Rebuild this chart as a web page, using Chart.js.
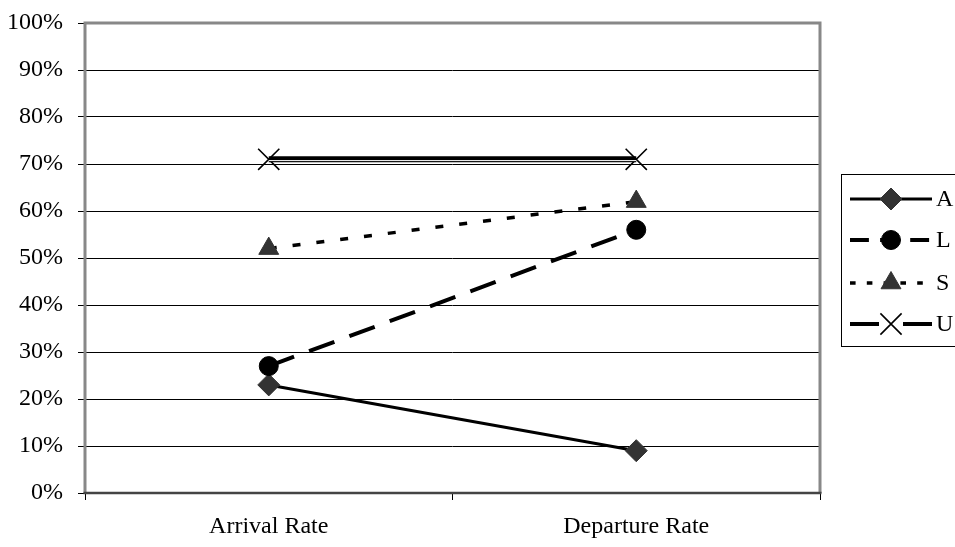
<!DOCTYPE html>
<html>
<head>
<meta charset="utf-8">
<script src="https://cdn.jsdelivr.net/npm/chart.js@4/dist/chart.umd.min.js"></script>
<style>
  html, body { margin: 0; padding: 0; background: #fff; }
  #wrap { width: 955px; height: 547px; }
</style>
</head>
<body>
<div id="wrap"><canvas id="c" width="955" height="547"></canvas></div>
<script>
// Rates by group, in percent
const categories = ['Arrival Rate', 'Departure Rate'];
const seriesA = [23, 9];
const seriesL = [27, 56];
const seriesS = [52, 62];
const seriesU = [71, 71];
const yTicks = [0, 10, 20, 30, 40, 50, 60, 70, 80, 90, 100];

const FONT = "'Liberation Serif', 'Times New Roman', serif";
const FONT_SIZE = 24;

const datasets = [
  {
    label: 'A', data: seriesA, order: 4,
    borderColor: '#000', borderWidth: 3,
    pointStyle: 'rectRot', pointRadius: 11,
    pointBackgroundColor: '#333', pointBorderColor: '#333', pointBorderWidth: 1
  },
  {
    label: 'L', data: seriesL, order: 3,
    borderColor: '#000', borderWidth: 4, borderDash: [27, 16],
    pointStyle: 'circle', pointRadius: 9.5,
    pointBackgroundColor: '#000', pointBorderColor: '#000', pointBorderWidth: 1
  },
  {
    label: 'S', data: seriesS, order: 2,
    borderColor: '#000', borderWidth: 3.5, borderDash: [8, 16],
    pointStyle: 'triangle', pointRadius: 11.5,
    pointBackgroundColor: '#333', pointBorderColor: '#333', pointBorderWidth: 1
  },
  {
    label: 'U', data: seriesU, order: 1,
    borderColor: '#000', borderWidth: 6,
    pointStyle: 'crossRot', pointRadius: 15,
    pointBackgroundColor: '#000', pointBorderColor: '#000', pointBorderWidth: 1.6
  },
  {
    // thin white core that turns the U line into a double rule
    label: '', data: seriesU, order: 0, skipLegend: true, core: true,
    borderColor: '#fff', borderWidth: 1, pointRadius: 0
  }
];

// Nudge the white core downward so the upper rule is the heavier one
const corePlugin = {
  id: 'core',
  beforeDatasetDraw(chart, args) {
    if (chart.data.datasets[args.index].core) {
      chart.ctx.save();
      chart.ctx.translate(0, 1.3);
    }
  },
  afterDatasetDraw(chart, args) {
    if (chart.data.datasets[args.index].core) chart.ctx.restore();
  }
};

// Gray frame around the plot area
const framePlugin = {
  id: 'frame',
  afterDraw(chart) {
    const { ctx, chartArea: a } = chart;
    ctx.save();
    ctx.strokeStyle = '#888';
    ctx.lineWidth = 3;
    ctx.beginPath();
    ctx.moveTo(a.left, a.bottom);
    ctx.lineTo(a.left, a.top);
    ctx.lineTo(a.right, a.top);
    ctx.lineTo(a.right, a.bottom);
    ctx.stroke();
    ctx.strokeStyle = '#444';
    ctx.lineWidth = 2.5;
    ctx.beginPath();
    ctx.moveTo(a.left - 1.5, a.bottom);
    ctx.lineTo(a.right + 1.5, a.bottom);
    ctx.stroke();
    ctx.restore();
  }
};

// Boxed legend on the right with line + marker samples
const legendPlugin = {
  id: 'boxLegend',
  afterDraw(chart) {
    const { ctx } = chart;
    const box = { x: 841, y: 174, w: 130, h: 172 };
    ctx.save();
    ctx.strokeStyle = '#000';
    ctx.lineWidth = 1;
    ctx.strokeRect(box.x + 0.5, box.y + 0.5, box.w, box.h);
    const rows = [199, 240, 283, 324];
    const shown = chart.data.datasets.filter(d => !d.skipLegend);
    shown.forEach((ds, i) => {
      const y = rows[i];
      const x0 = 850, x1 = 932, xm = 891;
      ctx.strokeStyle = ds.borderColor;
      ctx.lineWidth = Math.min(ds.borderWidth, 4);
      ctx.setLineDash(ds.borderDash ? ds.borderDash.map(v => v * 0.7) : []);
      ctx.beginPath();
      ctx.moveTo(x0, y);
      ctx.lineTo(x1, y);
      ctx.stroke();
      ctx.setLineDash([]);
      const opts = {
        pointStyle: ds.pointStyle,
        radius: ds.pointRadius,
        rotation: 0,
        borderWidth: ds.pointBorderWidth
      };
      if (ds.pointStyle === 'crossRot') {
        ctx.fillStyle = '#fff';
        ctx.fillRect(xm - 12, y - 10, 24, 20);
      }
      ctx.fillStyle = ds.pointBackgroundColor;
      ctx.strokeStyle = ds.pointBorderColor;
      ctx.lineWidth = ds.pointBorderWidth;
      Chart.helpers.drawPoint(ctx, opts, xm, y);
      ctx.fillStyle = '#000';
      ctx.font = FONT_SIZE + 'px ' + FONT;
      ctx.textBaseline = 'middle';
      ctx.textAlign = 'left';
      ctx.fillText(ds.label, 936, y + 1);
    });
    ctx.restore();
  }
};

new Chart(document.getElementById('c'), {
  type: 'line',
  data: { labels: categories, datasets },
  options: {
    responsive: false,
    animation: false,
    events: [],
    layout: { padding: { left: 7, right: 135, top: 23, bottom: 0 } },
    plugins: { legend: { display: false }, tooltip: { enabled: false } },
    elements: { line: { tension: 0, fill: false } },
    scales: {
      x: {
        type: 'category',
        offset: true,
        grid: { display: true, drawOnChartArea: false, offset: true, color: '#000', lineWidth: 1, tickLength: 7 },
        border: { display: false },
        ticks: { color: '#000', font: { family: FONT, size: FONT_SIZE }, padding: 12, maxRotation: 0 },
        afterFit(s) { s.height = 54; s.paddingLeft = 0; s.paddingRight = 0; }
      },
      y: {
        min: 0, max: 100,
        afterBuildTicks(s) { s.ticks = yTicks.map(v => ({ value: v })); },
        grid: { color: '#000', lineWidth: 1, tickLength: 7 },
        border: { display: false },
        ticks: {
          color: '#000', font: { family: FONT, size: FONT_SIZE }, padding: 15,
          callback: v => v + '%'
        },
        afterFit(s) { s.width = 78; s.paddingTop = 0; s.paddingBottom = 0; }
      }
    }
  },
  plugins: [corePlugin, framePlugin, legendPlugin]
});
</script>
</body>
</html>
